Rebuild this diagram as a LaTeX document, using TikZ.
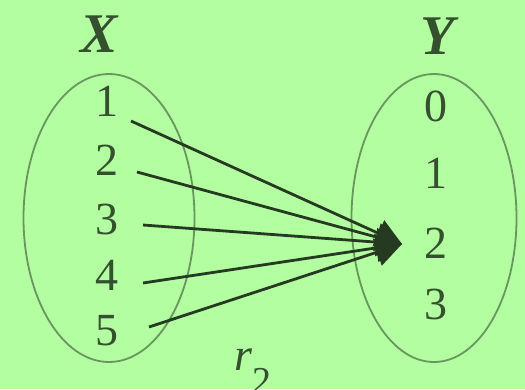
\documentclass[tikz,border=0pt]{standalone}
\usepackage{fontspec}
\setmainfont{Liberation Serif}
\usetikzlibrary{arrows.meta,shapes.geometric}
\definecolor{bg}{RGB}{178,254,160}
\definecolor{ell}{RGB}{104,150,94}
\definecolor{txt}{RGB}{52,80,46}
\definecolor{arr}{RGB}{38,58,34}
\begin{document}
\begin{tikzpicture}[x=1pt,y=-1pt,
  num/.style={text=txt,font=\fontsize{46}{46}\selectfont,inner sep=0pt},
  setlbl/.style={text=txt,font=\fontsize{56}{56}\selectfont\bfseries\itshape,inner sep=0pt},
  setell/.style={draw=ell,line width=1.8pt,ellipse,inner sep=0pt},
  maparrow/.style={draw=arr,line width=2.8pt,-{Triangle[length=26pt,width=28pt]}}]
\fill[bg] (0,0) rectangle (525,389);
\useasboundingbox (0,0) rectangle (525,389);
\node[setell,minimum width=171pt,minimum height=288pt] (ex) at (109,218) {};
\node[setell,minimum width=165pt,minimum height=288pt] (ey) at (434,218) {};
\node[setlbl] (X) at (99,34) {X};
\node[setlbl] (Y) at (438,36) {Y};
\node[num] (x1) at (107,101) {1};
\node[num] (x2) at (107,160) {2};
\node[num] (x3) at (107,219) {3};
\node[num] (x4) at (107,275) {4};
\node[num] (x5) at (107,331) {5};
\node[num] (y0) at (436,106) {0};
\node[num] (y1) at (436,173) {1};
\node[num] (y2) at (436,243) {2};
\node[num] (y3) at (436,304) {3};
\coordinate (s1) at (131,121);
\coordinate (s2) at (137,172);
\coordinate (s3) at (143,225);
\coordinate (s4) at (143,283);
\coordinate (s5) at (149,327);
\coordinate (t) at (402,244);
\foreach \s in {s1,s2,s3,s4,s5} \draw[maparrow] (\s) -- (t);
\node[num,anchor=base west] (r) at (234,370) {\textit{r}\raisebox{-0.5em}{\fontsize{38}{38}\selectfont 2}};
\end{tikzpicture}
\end{document}
